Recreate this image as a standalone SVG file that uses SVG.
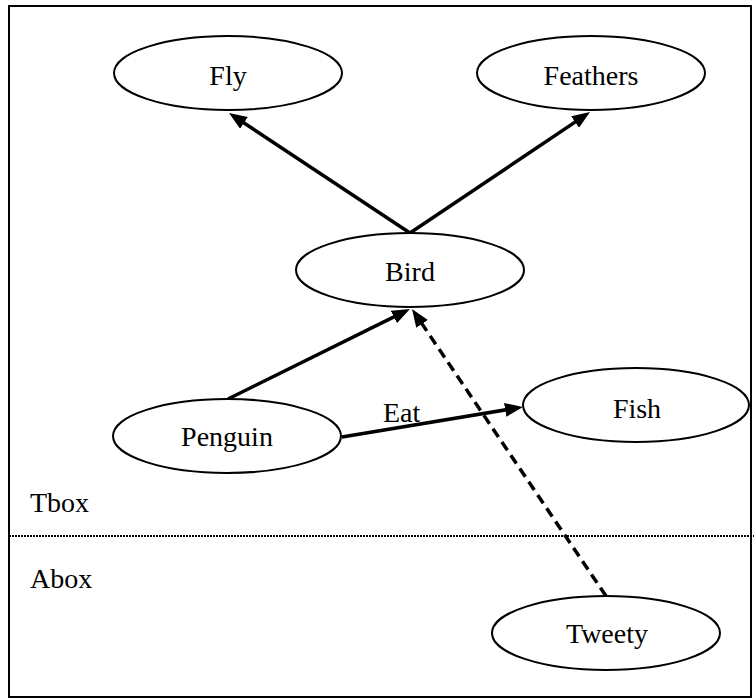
<svg xmlns="http://www.w3.org/2000/svg" width="754" height="700" viewBox="0 0 754 700">
<style>
.node ellipse{fill:#fff;stroke:#000;stroke-width:2}
text{font-family:"Liberation Serif","Times New Roman",serif;font-size:28px;fill:#000}
.c{text-anchor:middle}
.edge{stroke:#000;stroke-width:3.5;fill:none}
.dash{stroke-dasharray:10 6}
</style>
<defs>
<marker id="ah" markerUnits="userSpaceOnUse" markerWidth="18" markerHeight="14" refX="8" refY="7" orient="auto">
<path d="M0,0 L18,7 L0,14 z" fill="#000"/>
</marker>
</defs>
<rect x="9" y="6" width="742" height="691" fill="#fff" stroke="#000" stroke-width="2"/>
<line x1="9" y1="536" x2="754" y2="536" stroke="#000" stroke-width="2" stroke-dasharray="2 1"/>
<text x="30" y="512">Tbox</text>
<text x="30" y="588">Abox</text>
<g id="connectors">
<line class="edge" x1="410" y1="233" x2="237.3" y2="118.5" marker-end="url(#ah)"/>
<line class="edge" x1="410" y1="233" x2="581.7" y2="117.6" marker-end="url(#ah)"/>
<line class="edge" x1="228" y1="399" x2="401" y2="313.4" marker-end="url(#ah)"/>
<line class="edge" x1="342" y1="437" x2="513.1" y2="408.6" marker-end="url(#ah)"/>
<line class="edge dash" x1="606" y1="596" x2="417.6" y2="317.3" marker-end="url(#ah)"/>
<text x="383" y="422">Eat</text>
</g>
<g id="fly" class="node"><ellipse cx="228" cy="73" rx="114" ry="37"/><text class="c" x="228" y="85">Fly</text></g>
<g id="feathers" class="node"><ellipse cx="591" cy="73" rx="114" ry="37"/><text class="c" x="591" y="85">Feathers</text></g>
<g id="bird" class="node"><ellipse cx="410" cy="270" rx="114" ry="37"/><text class="c" x="410" y="281">Bird</text></g>
<g id="penguin" class="node"><ellipse cx="227" cy="436" rx="114" ry="37"/><text class="c" x="227" y="446">Penguin</text></g>
<g id="fish" class="node"><ellipse cx="636" cy="405" rx="113" ry="37"/><text class="c" x="637" y="418">Fish</text></g>
<g id="tweety" class="node"><ellipse cx="606" cy="633" rx="114" ry="37"/><text class="c" x="607" y="643">Tweety</text></g>
</svg>
